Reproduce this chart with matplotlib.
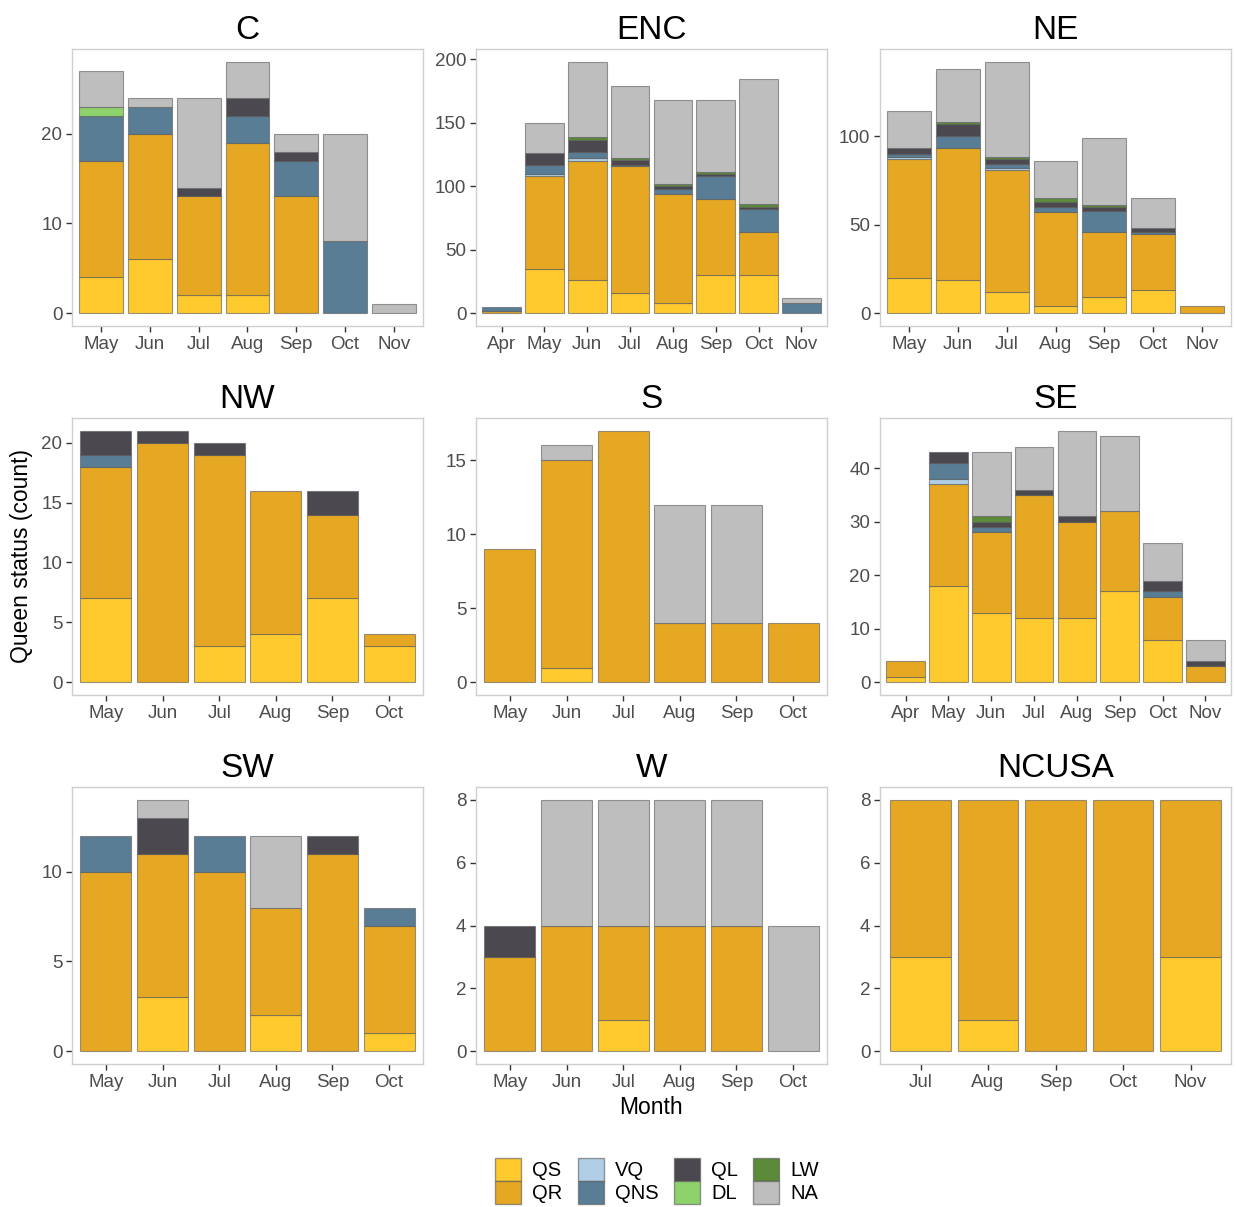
import numpy as np
import matplotlib
matplotlib.use('Agg')
import matplotlib.pyplot as plt
from matplotlib.patches import Patch

plt.rcParams['font.family'] = ['Liberation Sans', 'DejaVu Sans']

statuses = ['QS', 'QR', 'VQ', 'QNS', 'QL', 'DL', 'LW', 'NA']
colors = ['#FFCA2E', '#E6A822', '#B0CFE6', '#587D94', '#4B4850', '#8ED26B', '#5A8A3A', '#BEBEBE']

# counts per region, one list per status (stack order bottom -> top)
c_months = ['May', 'Jun', 'Jul', 'Aug', 'Sep', 'Oct', 'Nov']
c_counts = dict(QS=[4, 6, 2, 2, 0, 0, 0], QR=[13, 14, 11, 17, 13, 0, 0],
                VQ=[0, 0, 0, 0, 0, 0, 0], QNS=[5, 3, 0, 3, 4, 8, 0],
                QL=[0, 0, 1, 2, 1, 0, 0], DL=[1, 0, 0, 0, 0, 0, 0],
                LW=[0, 0, 0, 0, 0, 0, 0], NA=[4, 1, 10, 4, 2, 12, 1])

enc_months = ['Apr', 'May', 'Jun', 'Jul', 'Aug', 'Sep', 'Oct', 'Nov']
enc_counts = dict(QS=[0, 35, 26, 16, 8, 30, 30, 0], QR=[2, 73, 94, 100, 86, 60, 34, 0],
                  VQ=[0, 2, 2, 0, 0, 0, 0, 0], QNS=[3, 7, 5, 1, 4, 18, 18, 8],
                  QL=[0, 9, 9, 4, 2, 2, 2, 0], DL=[0, 0, 0, 0, 0, 0, 0, 0],
                  LW=[0, 0, 3, 1, 2, 1, 2, 0], NA=[0, 24, 59, 57, 66, 57, 98, 4])

ne_months = ['May', 'Jun', 'Jul', 'Aug', 'Sep', 'Oct', 'Nov']
ne_counts = dict(QS=[20, 19, 12, 4, 9, 13, 0], QR=[67, 74, 69, 53, 37, 32, 4],
                 VQ=[1, 0, 1, 0, 0, 0, 0], QNS=[2, 7, 2, 3, 12, 1, 0],
                 QL=[3, 7, 3, 3, 2, 2, 0], DL=[0, 0, 0, 0, 0, 0, 0],
                 LW=[0, 1, 1, 2, 1, 0, 0], NA=[21, 30, 54, 21, 38, 17, 0])

nw_months = ['May', 'Jun', 'Jul', 'Aug', 'Sep', 'Oct']
nw_counts = dict(QS=[7, 0, 3, 4, 7, 3], QR=[11, 20, 16, 12, 7, 1],
                 VQ=[0, 0, 0, 0, 0, 0], QNS=[1, 0, 0, 0, 0, 0],
                 QL=[2, 1, 1, 0, 2, 0], DL=[0, 0, 0, 0, 0, 0],
                 LW=[0, 0, 0, 0, 0, 0], NA=[0, 0, 0, 0, 0, 0])

s_months = ['May', 'Jun', 'Jul', 'Aug', 'Sep', 'Oct']
s_counts = dict(QS=[0, 1, 0, 0, 0, 0], QR=[9, 14, 17, 4, 4, 4],
                VQ=[0, 0, 0, 0, 0, 0], QNS=[0, 0, 0, 0, 0, 0],
                QL=[0, 0, 0, 0, 0, 0], DL=[0, 0, 0, 0, 0, 0],
                LW=[0, 0, 0, 0, 0, 0], NA=[0, 1, 0, 8, 8, 0])

se_months = ['Apr', 'May', 'Jun', 'Jul', 'Aug', 'Sep', 'Oct', 'Nov']
se_counts = dict(QS=[1, 18, 13, 12, 12, 17, 8, 0], QR=[3, 19, 15, 23, 18, 15, 8, 3],
                 VQ=[0, 1, 0, 0, 0, 0, 0, 0], QNS=[0, 3, 1, 0, 0, 0, 1, 0],
                 QL=[0, 2, 1, 1, 1, 0, 2, 1], DL=[0, 0, 0, 0, 0, 0, 0, 0],
                 LW=[0, 0, 1, 0, 0, 0, 0, 0], NA=[0, 0, 12, 8, 16, 14, 7, 4])

sw_months = ['May', 'Jun', 'Jul', 'Aug', 'Sep', 'Oct']
sw_counts = dict(QS=[0, 3, 0, 2, 0, 1], QR=[10, 8, 10, 6, 11, 6],
                 VQ=[0, 0, 0, 0, 0, 0], QNS=[2, 0, 2, 0, 0, 1],
                 QL=[0, 2, 0, 0, 1, 0], DL=[0, 0, 0, 0, 0, 0],
                 LW=[0, 0, 0, 0, 0, 0], NA=[0, 1, 0, 4, 0, 0])

w_months = ['May', 'Jun', 'Jul', 'Aug', 'Sep', 'Oct']
w_counts = dict(QS=[0, 0, 1, 0, 0, 0], QR=[3, 4, 3, 4, 4, 0],
                VQ=[0, 0, 0, 0, 0, 0], QNS=[0, 0, 0, 0, 0, 0],
                QL=[1, 0, 0, 0, 0, 0], DL=[0, 0, 0, 0, 0, 0],
                LW=[0, 0, 0, 0, 0, 0], NA=[0, 4, 4, 4, 4, 4])

ncusa_months = ['Jul', 'Aug', 'Sep', 'Oct', 'Nov']
ncusa_counts = dict(QS=[3, 1, 0, 0, 3], QR=[5, 7, 8, 8, 5],
                    VQ=[0, 0, 0, 0, 0], QNS=[0, 0, 0, 0, 0],
                    QL=[0, 0, 0, 0, 0], DL=[0, 0, 0, 0, 0],
                    LW=[0, 0, 0, 0, 0], NA=[0, 0, 0, 0, 0])

regions = [('C', c_months, c_counts, [0, 10, 20]),
           ('ENC', enc_months, enc_counts, [0, 50, 100, 150, 200]),
           ('NE', ne_months, ne_counts, [0, 50, 100]),
           ('NW', nw_months, nw_counts, [0, 5, 10, 15, 20]),
           ('S', s_months, s_counts, [0, 5, 10, 15]),
           ('SE', se_months, se_counts, [0, 10, 20, 30, 40]),
           ('SW', sw_months, sw_counts, [0, 5, 10]),
           ('W', w_months, w_counts, [0, 2, 4, 6, 8]),
           ('NCUSA', ncusa_months, ncusa_counts, [0, 2, 4, 6, 8])]

W, H = 1236, 1207
fig = plt.figure(figsize=(W / 100, H / 100), dpi=100)

lefts = [72, 476, 880]
tops = [49, 418, 787]
pw, ph = 351, 277
edge = (0.35, 0.35, 0.35, 0.6)

for i, (name, months, counts, yticks) in enumerate(regions):
    l = lefts[i % 3]
    t = tops[i // 3]
    ax = fig.add_axes([l / W, 1 - (t + ph) / H, pw / W, ph / H])
    x = np.arange(len(months))
    bottom = np.zeros(len(months))
    for s, col in zip(statuses, colors):
        vals = np.array(counts[s], dtype=float)
        keep = vals > 0
        if keep.any():
            ax.bar(x[keep], vals[keep], width=0.9, bottom=bottom[keep], color=col,
                   edgecolor=edge, linewidth=0.8)
        bottom += vals
    top = bottom.max()
    ax.set_ylim(-0.05 * top, top * 1.05)
    ax.set_xlim(-0.6, len(months) - 0.4)
    ax.set_xticks(x)
    ax.set_xticklabels(months)
    ax.set_yticks(yticks)
    ax.tick_params(labelsize=13.5, labelcolor='#4D4D4D', color='#333333',
                   length=4, width=1, pad=3)
    for sp in ax.spines.values():
        sp.set_color('#CFCFCF')
        sp.set_linewidth(1)
    ax.set_title(name, fontsize=24, pad=7)

fig.text(22 / W, 1 - 556 / H, 'Queen status (count)', rotation=90,
         ha='center', va='center', fontsize=16.5)
fig.text(651 / W, 1 - 1108 / H, 'Month', ha='center', va='center', fontsize=16.5)

handles = [Patch(facecolor=c, edgecolor=edge, label=s)
           for s, c in zip(statuses, colors)]
fig.legend(handles=handles, ncol=4, loc='center',
           bbox_to_anchor=(657 / W, 1 - 1181 / H), frameon=False,
           fontsize=14.5, handlelength=1.3, handleheight=1.35,
           labelspacing=0.0, columnspacing=0.75, handletextpad=0.55,
           borderpad=0.2)

fig.savefig('out.png', dpi=100)
